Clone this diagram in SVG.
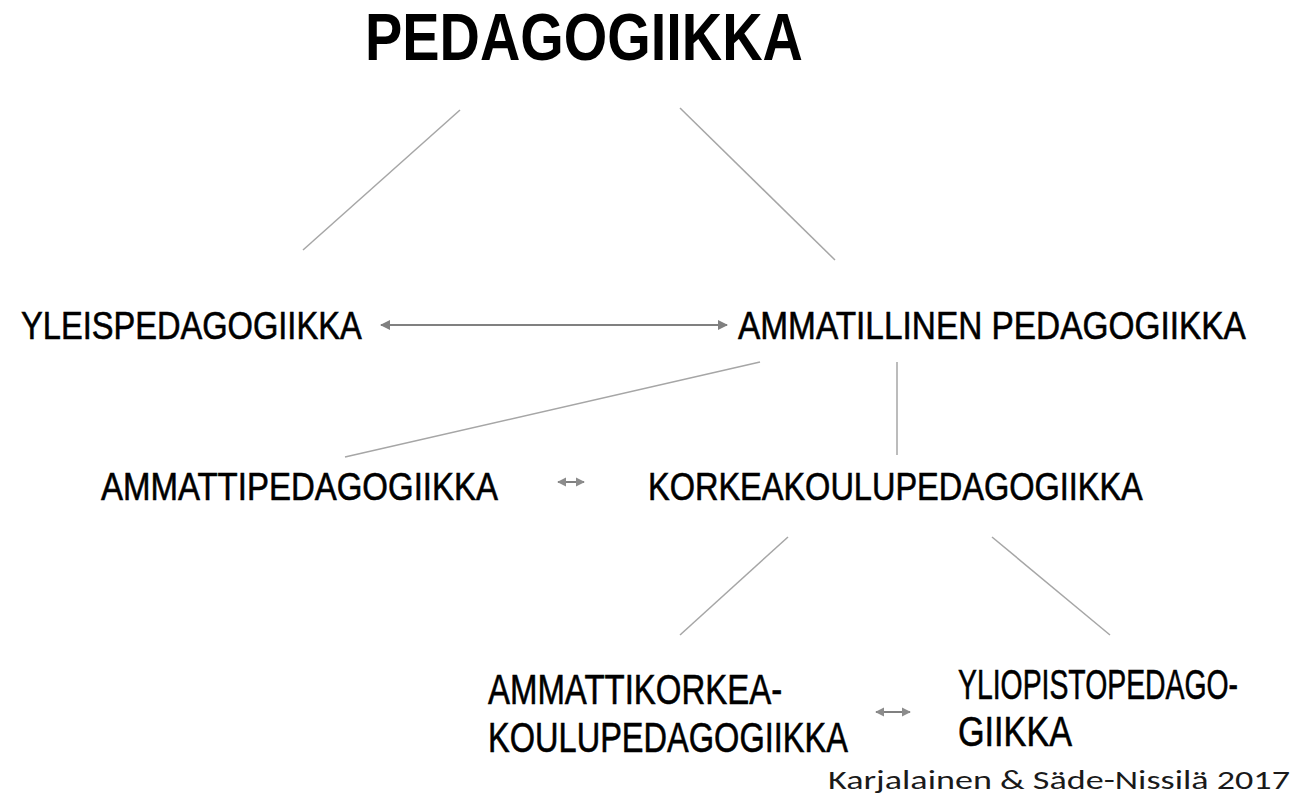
<svg xmlns="http://www.w3.org/2000/svg" width="1299" height="802" viewBox="0 0 1299 802">
<style>
.lbl{font-family:"Liberation Sans",Arial,sans-serif;fill:#000;stroke:#000;stroke-width:0.6;}
.ttl{font-family:"Liberation Sans",Arial,sans-serif;font-weight:bold;fill:#000;}
.ln{stroke:#a6a6a6;stroke-width:1.5;fill:none;}
.ar{stroke:#808080;stroke-width:2;fill:none;}
.cite{font-family:"Carlito","Open Sans","Liberation Sans",sans-serif;fill:#1a1a1a;}
</style>
<defs>
<marker id="ah" viewBox="0 0 10 10" refX="9" refY="5" markerWidth="11" markerHeight="10" markerUnits="userSpaceOnUse" orient="auto-start-reverse">
<path d="M0,0 L10,5 L0,10 z" fill="#808080"/>
</marker>
<marker id="ahs" viewBox="0 0 10 10" refX="9" refY="5" markerWidth="9" markerHeight="10" markerUnits="userSpaceOnUse" orient="auto-start-reverse">
<path d="M0,0 L10,5 L0,10 z" fill="#8c8c8c"/>
</marker>
</defs>
<rect width="1299" height="802" fill="#fff"/>
<g id="connectors">
<line class="ln" x1="460" y1="110" x2="303" y2="250"/>
<line class="ln" x1="680" y1="108" x2="835" y2="260"/>
<line class="ln" x1="760" y1="362" x2="345" y2="457"/>
<line class="ln" x1="897" y1="362" x2="897" y2="455"/>
<line class="ln" x1="788" y1="537" x2="680" y2="635"/>
<line class="ln" x1="992" y1="537" x2="1110" y2="635"/>
<line class="ar" x1="381" y1="325" x2="727" y2="325" marker-start="url(#ah)" marker-end="url(#ah)"/>
<line class="ar" x1="558" y1="482" x2="584" y2="482" marker-start="url(#ahs)" marker-end="url(#ahs)"/>
<line class="ar" x1="876" y1="712" x2="910" y2="712" marker-start="url(#ahs)" marker-end="url(#ahs)"/>
</g>
<g id="pedagogiikka"><text class="ttl" transform="translate(365,60) scale(0.847,1)" font-size="66" textLength="517" lengthAdjust="spacingAndGlyphs">PEDAGOGIIKKA</text></g>
<g id="yleispedagogiikka"><text class="lbl" transform="translate(21,339) scale(0.837,1)" font-size="39" textLength="407" lengthAdjust="spacingAndGlyphs">YLEISPEDAGOGIIKKA</text></g>
<g id="ammatillinen"><text class="lbl" transform="translate(738,339) scale(0.852,1)" font-size="39" textLength="596" lengthAdjust="spacingAndGlyphs">AMMATILLINEN PEDAGOGIIKKA</text></g>
<g id="ammattipedagogiikka"><text class="lbl" transform="translate(101,500) scale(0.84,1)" font-size="39" textLength="472.6" lengthAdjust="spacingAndGlyphs">AMMATTIPEDAGOGIIKKA</text></g>
<g id="korkeakoulupedagogiikka"><text class="lbl" transform="translate(648,500) scale(0.833,1)" font-size="39" textLength="594" lengthAdjust="spacingAndGlyphs">KORKEAKOULUPEDAGOGIIKKA</text></g>
<g id="ammattikorkeakoulupedagogiikka">
<text class="lbl" transform="translate(488,704) scale(0.76,1)" font-size="43" textLength="387" lengthAdjust="spacingAndGlyphs">AMMATTIKORKEA-</text>
<text class="lbl" transform="translate(488,752) scale(0.757,1)" font-size="43" textLength="475.5" lengthAdjust="spacingAndGlyphs">KOULUPEDAGOGIIKKA</text>
</g>
<g id="yliopistopedagogiikka">
<text class="lbl" transform="translate(958,699) scale(0.659,1)" font-size="43" textLength="425" lengthAdjust="spacingAndGlyphs">YLIOPISTOPEDAGO-</text>
<text class="lbl" transform="translate(958,746) scale(0.795,1)" font-size="43" textLength="143.4" lengthAdjust="spacingAndGlyphs">GIIKKA</text>
</g>
<g id="citation"><text class="cite" x="828" y="789" font-size="27" textLength="462" lengthAdjust="spacingAndGlyphs">Karjalainen &amp; Säde-Nissilä 2017</text></g>
</svg>
